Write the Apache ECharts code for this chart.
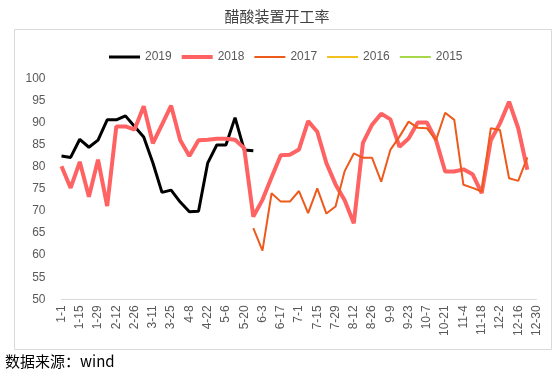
<!DOCTYPE html>
<html>
<head>
<meta charset="utf-8">
<script src="https://cdn.jsdelivr.net/npm/echarts@6/dist/echarts.min.js"></script>
<style>
html,body{margin:0;padding:0;background:#fff;}
#c{width:554px;height:375px;}
</style>
</head>
<body>
<div id="c"></div>
<script>
var categories = ['1-1','1-8','1-15','1-22','1-29','2-5','2-12','2-19','2-26','3-4','3-11','3-18','3-25','4-1','4-8','4-15','4-22','4-29','5-6','5-13','5-20','5-27','6-3','6-10','6-17','6-24','7-1','7-8','7-15','7-22','7-29','8-5','8-12','8-19','8-26','9-2','9-9','9-16','9-23','9-30','10-7','10-14','10-21','10-28','11-4','11-11','11-18','11-25','12-2','12-9','12-16','12-23','12-30'];

var s2019 = [82.4, 82.1, 86.2, 84.4, 86.0, 90.6, 90.6, 91.5, 89.1, 86.7, 80.9, 74.2, 74.7, 72.0, 69.8, 69.9, 80.8, 84.9, 84.9, 91.1, 83.8, 83.6];

var s2018 = [80.1, 75.2, 81.1, 73.2, 81.6, 71.1, 89.1, 89.1, 88.4, 93.7,
             85.3, 89.5, 93.8, 86.0, 82.4, 86.0, 86.1, 86.3, 86.3, 86.1,
             84.2, 68.7, 72.5, 77.6, 82.6, 82.7, 83.9, 90.3, 87.9, 80.8,
             76.0, 72.4, 67.2, 85.4, 89.5, 92.0, 90.7, 84.5, 86.4, 90.0,
             90.0, 86.0, 78.9, 78.9, 79.4, 78.3, 74.0, 86.0, 89.8, 94.7,
             88.7, 79.3];

var s2017 = [null, null, null, null, null, null, null, null, null, null,
             null, null, null, null, null, null, null, null, null, null,
             null, 66.1, 61.0, 74.0, 72.1, 72.1, 74.5, 69.5, 75.1, 69.4,
             71.0, 79.0, 83.0, 82.0, 82.0, 76.6, 83.8, 86.8, 90.2, 88.8,
             88.7, 86.0, 92.2, 90.6, 75.9, 75.2, 74.4, 88.7, 88.3, 77.4,
             76.8, 82.1];

var s2016 = [];
var s2015 = [];

var yMin = 50, yMax = 100, yStep = 5;

// legend icon: a horizontal bar of given thickness inside a 31x14 box
function barIcon(t) {
  var y0 = 7 - t / 2, y1 = 7 + t / 2;
  return 'path://M0,0 L0.01,0 L0,0.01 Z M0,' + y0 + ' L31,' + y0 + ' L31,' + y1 + ' L0,' + y1 +
         ' Z M31,14 L30.99,14 L31,13.99 Z';
}

var chart = echarts.init(document.getElementById('c'), null, {renderer: 'canvas'});
var numFont = 'Liberation Sans, Arial, sans-serif';
var cjkFont = '"Noto Sans CJK SC", sans-serif';

chart.setOption({
  animation: false,
  backgroundColor: '#ffffff',
  title: {
    text: '醋酸装置开工率',
    left: 'center',
    top: 4,
    textStyle: {fontFamily: cjkFont, fontSize: 15, fontWeight: 'normal', color: '#404040'}
  },
  graphic: [
    {type: 'rect', shape: {x: 14.5, y: 29.5, width: 537, height: 320},
     style: {fill: 'none', stroke: '#D9D9D9', lineWidth: 1}, z: -1},
    {type: 'text', left: 5, top: 354,
     style: {text: '数据来源：wind', font: '15px "Noto Sans CJK SC", sans-serif', fill: '#000000'}}
  ],
  legend: {
    left: 104,
    top: 45,
    itemWidth: 31,
    itemHeight: 14,
    itemGap: 10,
    itemStyle: {borderWidth: 0},
    data: [
      {name: '2019', icon: barIcon(3)},
      {name: '2018', icon: barIcon(4)},
      {name: '2017', icon: barIcon(2)},
      {name: '2016', icon: barIcon(2)},
      {name: '2015', icon: barIcon(2)}
    ],
    textStyle: {fontFamily: numFont, fontSize: 12, color: '#595959'}
  },
  grid: {left: 61.5, right: 17.5, top: 78.3, bottom: 75.7, containLabel: false},
  xAxis: {
    type: 'category',
    data: categories,
    boundaryGap: false,
    axisLine: {lineStyle: {color: '#D9D9D9', width: 1}},
    axisTick: {show: false},
    axisLabel: {interval: 1, rotate: 90, margin: 6, fontFamily: numFont, fontSize: 12, color: '#595959'},
    splitLine: {show: false}
  },
  yAxis: {
    type: 'value',
    min: yMin, max: yMax, interval: yStep,
    axisLine: {show: false},
    axisTick: {show: false},
    splitLine: {show: false},
    axisLabel: {margin: 16, fontFamily: numFont, fontSize: 12, color: '#595959'}
  },
  series: [
    {name: '2019', type: 'line', data: s2019, symbol: 'none', smooth: false,
     lineStyle: {color: '#000000', width: 3}, itemStyle: {color: '#000000'}},
    {name: '2018', type: 'line', data: s2018, symbol: 'none',
     lineStyle: {color: '#FF6262', width: 4}, itemStyle: {color: '#FF6262'}},
    {name: '2017', type: 'line', data: s2017, symbol: 'none',
     lineStyle: {color: '#EE5A1C', width: 2}, itemStyle: {color: '#EE5A1C'}},
    {name: '2016', type: 'line', data: s2016, symbol: 'none',
     lineStyle: {color: '#F2C222', width: 2}, itemStyle: {color: '#F2C222'}},
    {name: '2015', type: 'line', data: s2015, symbol: 'none',
     lineStyle: {color: '#A6D84A', width: 2}, itemStyle: {color: '#A6D84A'}}
  ]
});
</script>
</body>
</html>
